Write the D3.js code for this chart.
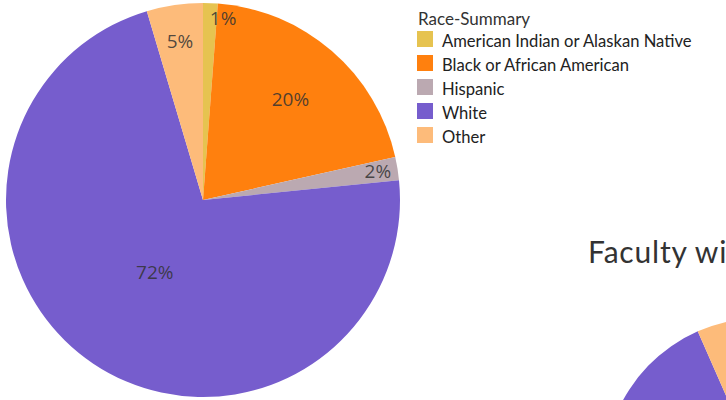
<!DOCTYPE html>
<html>
<head>
<meta charset="utf-8">
<script src="https://cdn.jsdelivr.net/npm/d3@7"></script>
<style>
  body { margin: 0; background: #fff; }
  svg { display: block; }
</style>
</head>
<body>
<div id="chart-area"></div>
<script>
const width = 726;
const height = 400;

// Data (percent of faculty by race)
const categories = ["American Indian or Alaskan Native", "Black or African American", "Hispanic", "White", "Other"];
const colors = ["#E6C350", "#FF800E", "#BBA9B1", "#765DCD", "#FDBB7A"];
const mainValues = [1.2, 20.3, 1.9, 72.0, 4.6];
const secondValues = [0.8, 16.0, 2.6, 74.0, 6.6];
const legendTitle = "Race-Summary";
const secondTitle = "Faculty with Tenure";

const svg = d3.select("#chart-area")
  .append("svg")
    .attr("width", width)
    .attr("height", height);

const colorScale = d3.scaleOrdinal()
  .domain(categories)
  .range(colors);

const pie = d3.pie()
  .sort(null)
  .value(d => d.value);

// label distance from centre, as a share of radius, by slice share
const labelRadius = d3.scaleLinear()
  .domain([0, 0.05, 0.2, 0.72])
  .range([0.96, 0.80, 0.68, 0.44])
  .clamp(true);

function drawPie(values, cx, cy, r, showLabels) {
  const data = categories.map((c, i) => ({ category: c, value: values[i] }));
  const total = d3.sum(values);
  const arc = d3.arc().innerRadius(0).outerRadius(r);
  const g = svg.append("g")
    .attr("transform", `translate(${cx},${cy})`);

  const slices = pie(data);

  g.selectAll("path")
    .data(slices)
    .enter().append("path")
      .attr("d", arc)
      .attr("fill", d => colorScale(d.data.category));

  if (!showLabels) return;

  g.selectAll("text")
    .data(slices)
    .enter().append("text")
      .attr("transform", d => {
        const mid = (d.startAngle + d.endAngle) / 2;
        const rr = r * labelRadius(d.data.value / total);
        return `translate(${Math.sin(mid) * rr},${-Math.cos(mid) * rr})`;
      })
      .attr("text-anchor", d => (d.data.value / total < 0.015 ? "start" : "middle"))
      .attr("dy", "0.35em")
      .style("font-family", "'Open Sans', sans-serif")
      .style("font-size", "19px")
      .style("fill", "#333")
      .style("fill-opacity", 0.85)
      .text(d => `${Math.round(d.data.value / total * 100)}%`);
}

drawPie(mainValues, 203, 200, 197, true);
drawPie(secondValues, 761, 475, 157, false);

// Second chart title (cut off at the right edge)
svg.append("text")
  .attr("x", 588)
  .attr("y", 263)
  .style("font-family", "Lato, sans-serif")
  .style("font-size", "30px")
  .style("letter-spacing", "0.8px")
  .style("fill", "#333")
  .text(secondTitle);

// Legend
const legend = svg.append("g")
  .attr("transform", "translate(417,0)");

legend.append("text")
  .attr("x", 1)
  .attr("y", 25)
  .style("font-family", "Lato, sans-serif")
  .style("font-size", "17px")
  .style("fill", "#333")
  .text(legendTitle);

const items = legend.selectAll(".legend-item")
  .data(categories)
  .enter().append("g")
    .attr("class", "legend-item")
    .attr("transform", (d, i) => `translate(0,${41 + i * 24})`);

items.append("rect")
  .attr("x", 0)
  .attr("y", -10)
  .attr("width", 16)
  .attr("height", 16)
  .attr("fill", d => colorScale(d));

items.append("text")
  .attr("x", 25)
  .attr("y", 0)
  .attr("dy", "0.35em")
  .style("font-family", "Lato, sans-serif")
  .style("font-size", "16.6px")
  .style("fill", "#222")
  .text(d => d);
</script>
</body>
</html>
